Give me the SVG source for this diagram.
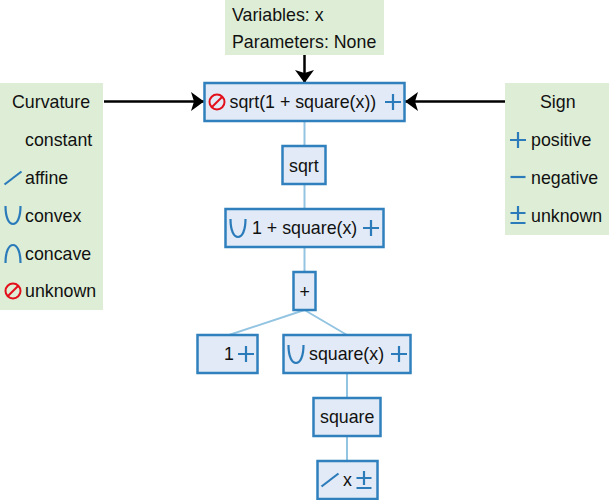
<svg xmlns="http://www.w3.org/2000/svg" xmlns:xlink="http://www.w3.org/1999/xlink" width="609" height="500" viewBox="0 0 609 500">
<style>
text{font-family:"Liberation Sans",Arial,sans-serif;font-size:17.800px;fill:#111}
.panel{fill:#deeed6;stroke:none}
.node{fill:#e1eaf6;stroke:#2f80bd;stroke-width:2.500}
.edge{stroke:#93c4e2;stroke-width:2;fill:none}
.arrow{stroke:#000;stroke-width:2.500;fill:none;marker-end:url(#head)}
.ic{fill:none;stroke:#2b7bba;stroke-width:2.200}
.bad{fill:none;stroke:#e3101c;stroke-width:2}
</style>
<defs>
<marker id="head" markerUnits="userSpaceOnUse" markerWidth="24" markerHeight="24" refX="20" refY="12" orient="auto"><path d="M7 2.500L20 12L7 21.500L10 12Z" fill="#000"/></marker>
<g id="plus"><path class="ic" d="M-8 0H8M0-8V8"/></g>
<g id="minus"><path class="ic" d="M-7.500 0H7.500"/></g>
<g id="pm"><path class="ic" d="M-7.500-2H7.500M0-9V5M-7.500 8H7.500"/></g>
<g id="line"><path class="ic" d="M-8.500 6.500L8.500-6.500"/></g>
<g id="cup"><path class="ic" d="M-7.500-9C-7.500 3-4 9 0 9S7.500 3 7.500-9"/></g>
<g id="cap"><path class="ic" d="M-7.500 9C-7.500-3-4-9 0-9S7.500-3 7.500 9"/></g>
<g id="no"><circle class="bad" cx="0" cy="0" r="7.500"/><path class="bad" d="M-5.300 5.300L5.300-5.300"/></g>
</defs>
<g id="connectors">
<path class="edge" d="M304.500 121V146M304.500 184V209M304.500 247V272M304.500 310L229 335M304.500 310L347 335M347 373V397M347 436V461"/>
<path class="arrow" d="M304.500 55V83"/>
<path class="arrow" d="M104 101.500H204"/>
<path class="arrow" d="M505 101.500H405"/>
</g>
<g id="panel-vars"><rect class="panel" x="225" y="0" width="159" height="55"/><text x="232" y="21">Variables: x</text><text x="232" y="48">Parameters: None</text></g>
<g id="legend-curvature"><rect class="panel" x="0" y="83" width="103" height="227"/>
<text x="12" y="108">Curvature</text>
<text x="25" y="146">constant</text>
<use href="#line" x="13" y="178"/><text x="25" y="184">affine</text>
<use href="#cup" x="13" y="215"/><text x="25" y="222">convex</text>
<use href="#cap" x="13" y="254"/><text x="25" y="260">concave</text>
<use href="#no" x="13" y="291"/><text x="25" y="297">unknown</text></g>
<g id="legend-sign"><rect class="panel" x="505" y="83" width="104" height="152"/>
<text x="540" y="108">Sign</text>
<use href="#plus" x="518" y="140"/><text x="531" y="146">positive</text>
<use href="#minus" x="518" y="177"/><text x="531" y="184">negative</text>
<use href="#pm" x="518" y="215"/><text x="531" y="222">unknown</text></g>
<g id="node-root"><rect class="node" x="204.500" y="83" width="200" height="38"/><use href="#no" x="217" y="102"/><text x="229.500" y="108">sqrt(1 + square(x))</text><use href="#plus" x="393" y="102"/></g>
<g id="node-sqrt"><rect class="node" x="282.500" y="146" width="43" height="38"/><text x="289" y="172">sqrt</text></g>
<g id="node-sum"><rect class="node" x="225.500" y="209" width="158" height="38"/><use href="#cup" x="238" y="228"/><text x="252" y="234">1 + square(x)</text><use href="#plus" x="371" y="228"/></g>
<g id="node-plus"><rect class="node" x="293.500" y="272" width="22" height="38"/><text x="299.500" y="298">+</text></g>
<g id="node-one"><rect class="node" x="197.500" y="335" width="60" height="38"/><text x="224" y="360">1</text><use href="#plus" x="246" y="354"/></g>
<g id="node-squarex"><rect class="node" x="283.500" y="335" width="127" height="38"/><use href="#cup" x="296" y="354"/><text x="309" y="360">square(x)</text><use href="#plus" x="399" y="354"/></g>
<g id="node-square"><rect class="node" x="313.500" y="398" width="67" height="38"/><text x="320" y="423">square</text></g>
<g id="node-x"><rect class="node" x="317.500" y="461" width="60" height="38"/><use href="#line" x="330" y="480"/><text x="343" y="486">x</text><use href="#pm" x="364" y="480"/></g>
</svg>
